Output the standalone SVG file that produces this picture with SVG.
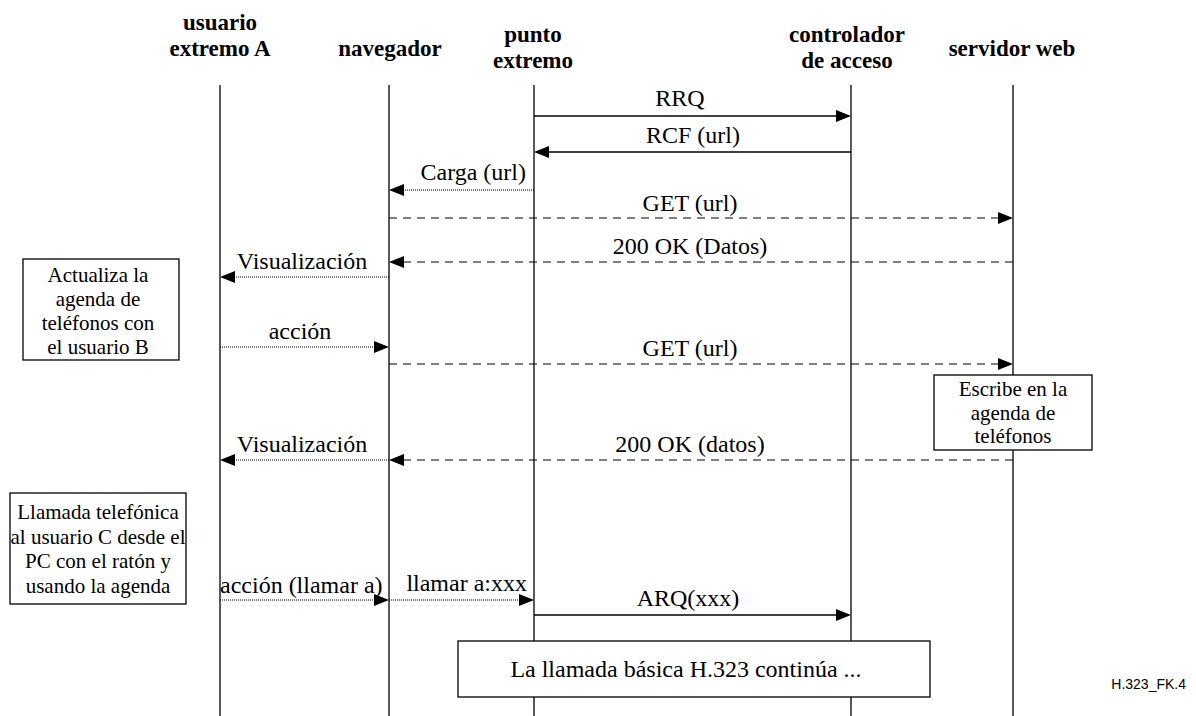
<svg xmlns="http://www.w3.org/2000/svg" width="1196" height="716" viewBox="0 0 1196 716">
<style>
.hd{font-family:"Liberation Serif","Times New Roman",serif;font-weight:bold;font-size:23px;text-anchor:middle;fill:#000}
.lb{font-family:"Liberation Serif","Times New Roman",serif;font-size:24px;fill:#000}
.bx{font-family:"Liberation Serif","Times New Roman",serif;font-size:21px;fill:#000;text-anchor:middle}
.life{stroke:#000;stroke-width:1.3;fill:none}
.solid{stroke:#000;stroke-width:1.3;fill:none}
.dash{stroke:#000;stroke-width:1.2;fill:none;stroke-dasharray:8,6}
.dot{stroke:#000;stroke-width:1.2;fill:none;stroke-dasharray:1,1}
.box{fill:#fff;stroke:#000;stroke-width:1.3}
.ah{fill:#000}
</style>
<rect width="1196" height="716" fill="#fff"/>
<g id="lifelines">
<line class="life" x1="220" y1="85" x2="220" y2="716"/>
<line class="life" x1="389" y1="85" x2="389" y2="716"/>
<line class="life" x1="534" y1="85" x2="534" y2="716"/>
<line class="life" x1="851" y1="85" x2="851" y2="716"/>
<line class="life" x1="1013" y1="85" x2="1013" y2="716"/>
</g>
<g id="node-usuario"><text class="hd" x="220" y="30">usuario</text><text class="hd" x="220" y="56">extremo A</text></g>
<g id="node-navegador"><text class="hd" x="390" y="56">navegador</text></g>
<g id="node-punto"><text class="hd" x="533" y="42">punto</text><text class="hd" x="533" y="68">extremo</text></g>
<g id="node-controlador"><text class="hd" x="847" y="42">controlador</text><text class="hd" x="847" y="68">de acceso</text></g>
<g id="node-servidor"><text class="hd" x="1012" y="56">servidor web</text></g>
<g id="connectors">
<line class="solid" x1="534" y1="116" x2="838" y2="116"/><path class="ah" d="M851,116 L836,110 L836,122 Z"/>
<text class="lb" x="680" y="106" text-anchor="middle">RRQ</text>
<line class="solid" x1="851" y1="152" x2="547" y2="152"/><path class="ah" d="M534,152 L549,146 L549,158 Z"/>
<text class="lb" x="693" y="143" text-anchor="middle">RCF (url)</text>
<line class="dot" x1="534" y1="190" x2="402" y2="190"/><path class="ah" d="M389,190 L404,184 L404,196 Z"/>
<text class="lb" x="526" y="180" text-anchor="end">Carga (url)</text>
<line class="dash" x1="389" y1="218" x2="1000" y2="218"/><path class="ah" d="M1013,218 L998,212 L998,224 Z"/>
<text class="lb" x="690" y="211" text-anchor="middle">GET (url)</text>
<line class="dash" x1="1013" y1="262" x2="402" y2="262"/><path class="ah" d="M389,262 L404,256 L404,268 Z"/>
<text class="lb" x="690" y="254" text-anchor="middle">200 OK (Datos)</text>
<line class="dot" x1="389" y1="277" x2="233" y2="277"/><path class="ah" d="M220,277 L235,271 L235,283 Z"/>
<text class="lb" x="302" y="269" text-anchor="middle">Visualización</text>
<line class="dot" x1="220" y1="347" x2="376" y2="347"/><path class="ah" d="M389,347 L374,341 L374,353 Z"/>
<text class="lb" x="300" y="339" text-anchor="middle">acción</text>
<line class="dash" x1="389" y1="364" x2="1000" y2="364"/><path class="ah" d="M1013,364 L998,358 L998,370 Z"/>
<text class="lb" x="690" y="356" text-anchor="middle">GET (url)</text>
<line class="dash" x1="1013" y1="460" x2="402" y2="460"/><path class="ah" d="M389,460 L404,454 L404,466 Z"/>
<text class="lb" x="690" y="452" text-anchor="middle">200 OK (datos)</text>
<line class="dot" x1="389" y1="460" x2="233" y2="460"/><path class="ah" d="M220,460 L235,454 L235,466 Z"/>
<text class="lb" x="302" y="452" text-anchor="middle">Visualización</text>
<line class="dot" x1="220" y1="600" x2="376" y2="600"/><path class="ah" d="M389,600 L374,594 L374,606 Z"/>
<text class="lb" x="220" y="593">acción (llamar a)</text>
<line class="dot" x1="389" y1="600" x2="521" y2="600"/><path class="ah" d="M534,600 L519,594 L519,606 Z"/>
<text class="lb" x="527" y="591" text-anchor="end">llamar a:xxx</text>
<line class="solid" x1="534" y1="615" x2="838" y2="615"/><path class="ah" d="M851,615 L836,609 L836,621 Z"/>
<text class="lb" x="688" y="606" text-anchor="middle">ARQ(xxx)</text>
</g>
<g id="node-actualiza">
<rect class="box" x="23" y="259" width="156" height="101"/>
<text class="bx" x="98" y="282">Actualiza la</text>
<text class="bx" x="98" y="306">agenda de</text>
<text class="bx" x="98" y="330">teléfonos con</text>
<text class="bx" x="98" y="354">el usuario B</text>
</g>
<g id="node-escribe">
<rect class="box" x="934" y="375" width="158" height="75"/>
<text class="bx" x="1013" y="396">Escribe en la</text>
<text class="bx" x="1013" y="420">agenda de</text>
<text class="bx" x="1013" y="443">teléfonos</text>
</g>
<g id="node-llamada">
<rect class="box" x="10" y="493" width="176" height="111"/>
<text class="bx" x="98" y="519">Llamada telefónica</text>
<text class="bx" x="98" y="544">al usuario C desde el</text>
<text class="bx" x="98" y="568">PC con el ratón y</text>
<text class="bx" x="98" y="593">usando la agenda</text>
</g>
<g id="node-continua">
<rect class="box" x="458" y="641" width="472" height="56"/>
<text class="lb" x="686" y="677" text-anchor="middle">La llamada básica H.323 continúa ...</text>
</g>
<text x="1186" y="689" font-family="Liberation Sans, Arial, sans-serif" font-size="14" text-anchor="end">H.323_FK.4</text>
</svg>
